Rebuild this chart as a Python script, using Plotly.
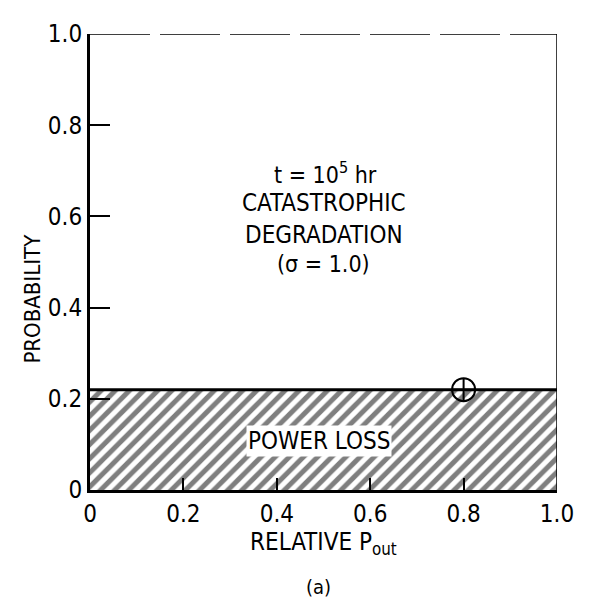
import plotly.graph_objects as go

# data
x_span = [0.0, 1.0]
power_loss_prob = [0.22, 0.22]
marker_x = [0.8]
marker_y = [0.22]
x_tickvals = [0, 0.2, 0.4, 0.6, 0.8, 1.0]
x_ticktext = ["0", "0.2", "0.4", "0.6", "0.8", "1.0"]
y_tickvals = [0, 0.2, 0.4, 0.6, 0.8, 1.0]
y_ticktext = ["0", "0.2", "0.4", "0.6", "0.8", "1.0"]

FONT = "DejaVu Sans Condensed, Liberation Sans Narrow, Roboto Condensed, Liberation Sans, Arial, sans-serif"
BLK = "black"

fig = go.Figure()
fig.add_trace(go.Scatter(
    x=x_span, y=power_loss_prob, mode="lines", fill="tozeroy",
    fillcolor="rgba(0,0,0,0)",
    fillpattern=dict(shape="/", size=10, solidity=0.5, fgcolor=BLK, bgcolor="white"),
    line=dict(color=BLK, width=3), showlegend=False, hoverinfo="skip"))
fig.add_trace(go.Scatter(
    x=marker_x, y=marker_y, mode="markers",
    marker=dict(symbol="circle-cross-open", size=23, color=BLK, line=dict(width=2)),
    showlegend=False, hoverinfo="skip"))

def note(x, y, text, size, **kw):
    fig.add_annotation(x=x, y=y, text=text, showarrow=False,
                       font=dict(family=FONT, size=size, color=BLK), **kw)

note(0.49, 0.107, "POWER LOSS", 24, bgcolor="white", borderpad=1)
note(0.505, 0.696, "t = 10<sup>5</sup> hr", 23)
note(0.50, 0.630, "CATASTROPHIC", 24)
note(0.50, 0.559, "DEGRADATION", 24)
note(0.50, 0.495, "(σ = 1.0)", 23)

# axis titles and caption as annotations in paper coordinates
note(0.50, -0.118, "RELATIVE P<sub>out</sub>", 24, xref="paper", yref="paper", yanchor="middle")
note(0.49, -0.212, "(a)", 20, xref="paper", yref="paper", yanchor="middle")
note(-0.155, 0.42, "PROBABILITY", 22, xref="paper", yref="paper", textangle=-90)

# top and right frame lines
fig.add_shape(type="line", xref="x", yref="y", x0=0, x1=1, y0=1, y1=1,
              line=dict(color=BLK, width=1.5, dash="60px,10px"))
fig.add_shape(type="line", xref="x", yref="y", x0=1, x1=1, y0=0, y1=1,
              line=dict(color=BLK, width=1.5))

fig.update_xaxes(range=[0, 1], tickvals=x_tickvals, ticktext=x_ticktext,
                 showline=True, linewidth=3, linecolor=BLK,
                 ticks="inside", ticklen=12, tickwidth=2, tickcolor=BLK,
                 showgrid=False, zeroline=False,
                 tickfont=dict(family=FONT, size=24, color=BLK))
fig.update_yaxes(range=[0, 1], tickvals=y_tickvals, ticktext=y_ticktext,
                 showline=True, linewidth=3, linecolor=BLK,
                 ticks="inside", ticklen=20, tickwidth=2, tickcolor=BLK,
                 showgrid=False, zeroline=False,
                 tickfont=dict(family=FONT, size=24, color=BLK))

fig.update_layout(width=578, height=592, plot_bgcolor="white", paper_bgcolor="white",
                  margin=dict(l=82, r=18, t=15, b=110))
fig.write_html("out.html")
